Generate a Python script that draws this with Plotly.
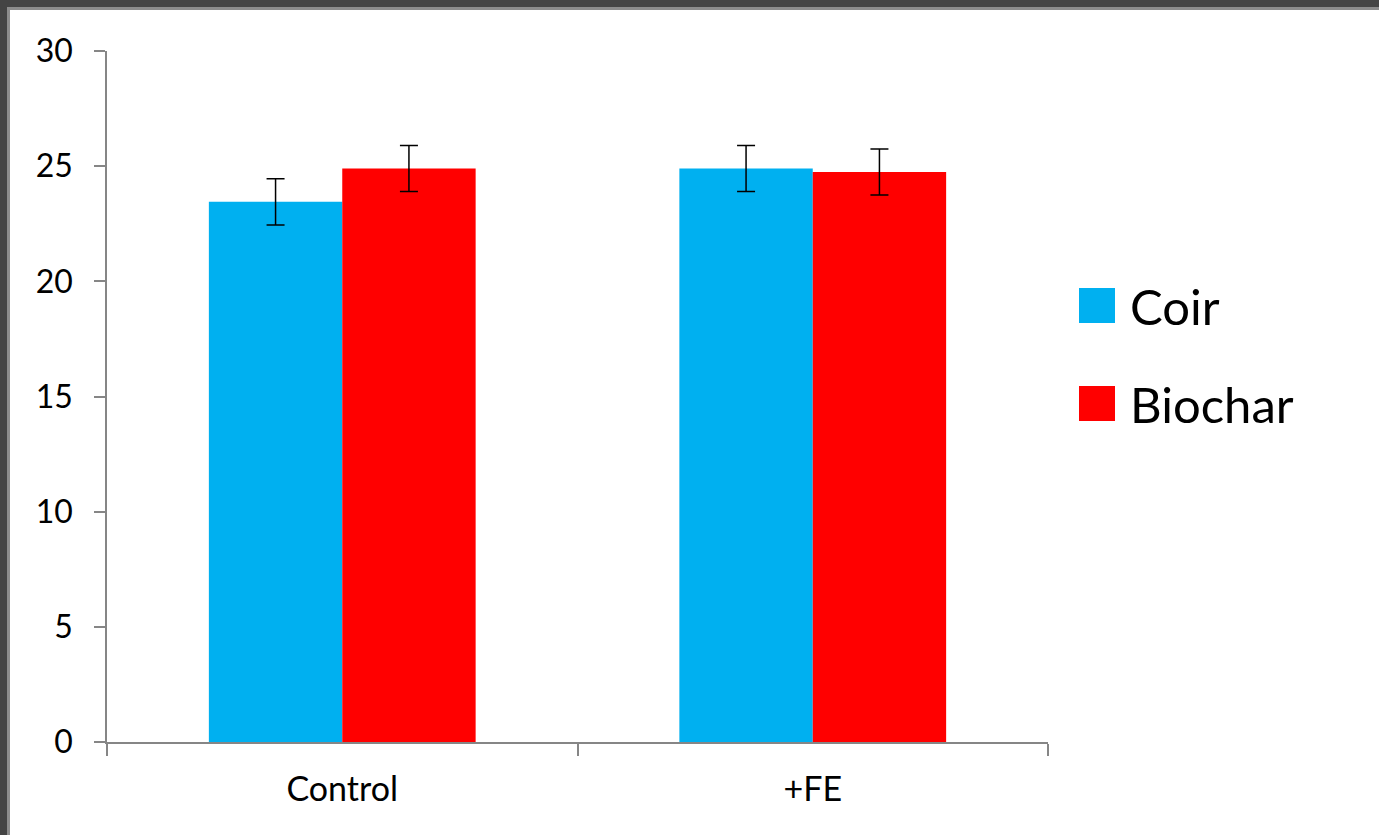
import plotly.graph_objects as go

categories = ["Control", "+FE"]
series_names = ["Coir", "Biochar"]
coir = [23.45, 24.9]
biochar = [24.9, 24.75]
coir_err = [1.0, 1.0]
biochar_err = [1.0, 1.0]
colors = ["#00B0F0", "#FF0000"]
y_ticks = [0, 5, 10, 15, 20, 25, 30]

W, H = 1379, 835
L, R, T, B = 107, 1048, 51, 742

def px(x):
    return (x - L) / (R - L)

def py(y):
    return (B - y) / (B - T)

fig = go.Figure()
for name, vals, errs, col in [(series_names[0], coir, coir_err, colors[0]),
                              (series_names[1], biochar, biochar_err, colors[1])]:
    fig.add_trace(go.Bar(
        x=categories, y=vals, name=name, marker=dict(color=col, line=dict(width=0)),
        error_y=dict(type="data", array=errs, visible=True, color="black",
                     thickness=1.5, width=9),
        showlegend=False,
    ))

font_family = "Lato, Open Sans, sans-serif"
shapes = []
annotations = []
# manual legend
leg = [(series_names[0], colors[0], 288, 323, 306), (series_names[1], colors[1], 386, 421, 404)]
for name, col, y0, y1, yc in leg:
    shapes.append(dict(type="rect", xref="paper", yref="paper",
                       x0=px(1079), x1=px(1115), y0=py(y1), y1=py(y0),
                       fillcolor=col, line=dict(width=0)))
    annotations.append(dict(text=name, xref="paper", yref="paper",
                            x=px(1128), y=py(yc), xanchor="left", yanchor="middle",
                            showarrow=False, font=dict(size=49, color="black", family=font_family)))

# frame on top and left
shapes += [
    dict(type="rect", xref="paper", yref="paper", x0=px(0), x1=px(W), y0=py(0), y1=py(7),
         fillcolor="#444444", line=dict(width=0), layer="above"),
    dict(type="rect", xref="paper", yref="paper", x0=px(7), x1=px(W), y0=py(7), y1=py(10),
         fillcolor="#8c8c8c", line=dict(width=0), layer="above"),
    dict(type="rect", xref="paper", yref="paper", x0=px(0), x1=px(7), y0=py(H), y1=py(0),
         fillcolor="#444444", line=dict(width=0), layer="above"),
    dict(type="rect", xref="paper", yref="paper", x0=px(7), x1=px(10), y0=py(H), y1=py(7),
         fillcolor="#8c8c8c", line=dict(width=0), layer="above"),
]

fig.update_layout(
    width=W, height=H,
    margin=dict(l=L, r=W - R, t=T, b=H - B, autoexpand=False),
    paper_bgcolor="white", plot_bgcolor="white",
    barmode="group", bargap=0.433, bargroupgap=0,
    shapes=shapes, annotations=annotations,
    font=dict(family=font_family, color="black"),
    hovermode=False,
)
fig.update_xaxes(
    type="category", range=[-0.5, 1.5], showline=True, linecolor="#868686", linewidth=1.5,
    ticks="outside", tickson="boundaries", ticklen=12, tickcolor="#868686", tickwidth=1.5,
    showgrid=False, tickfont=dict(size=34, color="black", family=font_family),
    ticklabelstandoff=16, zeroline=False,
)
fig.update_yaxes(
    range=[0, 30], tickvals=y_ticks, showline=True, linecolor="#868686", linewidth=1.5,
    ticks="outside", ticklen=11, tickcolor="#868686", tickwidth=1.5,
    showgrid=False, zeroline=False,
    tickfont=dict(size=32, color="black", family=font_family), ticklabelstandoff=15,
)

fig.write_html("out.html", config={"displayModeBar": False},
               post_script="document.body.style.margin='0';document.body.style.overflow='hidden';")
